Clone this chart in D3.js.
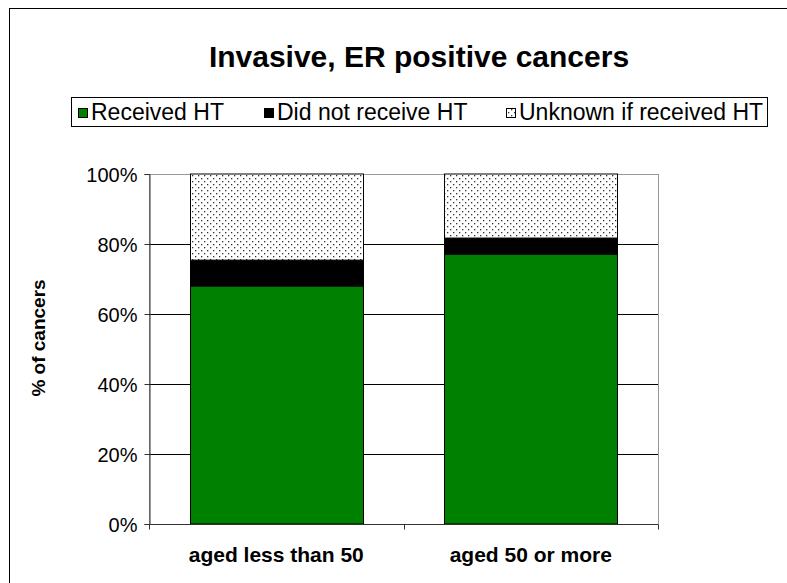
<!DOCTYPE html>
<html>
<head>
<meta charset="utf-8">
<script src="https://cdn.jsdelivr.net/npm/d3@7"></script>
<style>
  body { margin: 0; background: #fff; }
  svg { display: block; font-family: Arial, "Liberation Sans", sans-serif; }
</style>
</head>
<body>
<div id="chart"></div>
<script>
(function () {
    'use strict';

    var categories = ['aged less than 50', 'aged 50 or more'];
    var seriesNames = ['Received HT', 'Did not receive HT', 'Unknown if received HT'];
    var received = [68, 77.1];
    var notReceived = [7.4, 4.6];
    var unknown = [24.6, 18.3];
    var yTicks = [0, 20, 40, 60, 80, 100];

    var width = 787, height = 583;
    var margin = { left: 149, right: 129, top: 174, bottom: 59 };
    var innerW = width - margin.left - margin.right;
    var innerH = height - margin.top - margin.bottom;
    var font = 'Arial, "Liberation Sans", sans-serif';

    var svg = d3.select('#chart').append('svg')
        .attr('width', width)
        .attr('height', height);

    var defs = svg.append('defs');
    var pat = defs.append('pattern')
        .attr('id', 'dots')
        .attr('patternUnits', 'userSpaceOnUse')
        .attr('width', 6).attr('height', 6);
    pat.append('rect').attr('width', 6).attr('height', 6).attr('fill', '#fff');
    pat.append('rect').attr('x', 1).attr('y', 1).attr('width', 1.3).attr('height', 1.3).attr('fill', '#333');
    pat.append('rect').attr('x', 4).attr('y', 4).attr('width', 1.3).attr('height', 1.3).attr('fill', '#333');

    // outer chart frame (right/bottom run off the page)
    svg.append('rect')
        .attr('x', 9.5).attr('y', 8.5)
        .attr('width', 800).attr('height', 600)
        .attr('fill', 'none')
        .attr('stroke', '#000');

    svg.append('text')
        .attr('x', 419).attr('y', 67)
        .attr('text-anchor', 'middle')
        .style('font-size', '30px')
        .style('font-weight', 'bold')
        .text('Invasive, ER positive cancers');

    // legend
    var legend = svg.append('g');
    legend.append('rect')
        .attr('x', 71.5).attr('y', 97.5)
        .attr('width', 696).attr('height', 29)
        .attr('fill', '#fff')
        .attr('stroke', '#000');
    var legendX = [78, 264, 506];
    var legendFill = ['#008000', '#000', 'url(#dots)'];
    seriesNames.forEach(function (name, i) {
        legend.append('rect')
            .attr('x', legendX[i] + 0.5).attr('y', 108.5)
            .attr('width', 9).attr('height', 9)
            .attr('fill', legendFill[i])
            .attr('stroke', '#000');
        legend.append('text')
            .attr('x', legendX[i] + 13).attr('y', 120)
            .style('font-size', '23px')
            .text(name);
    });

    var g = svg.append('g')
        .attr('transform', 'translate(' + margin.left + ',' + margin.top + ')');

    var x = d3.scaleBand().domain(categories).range([0, innerW]).paddingInner(0.32).paddingOuter(0.16);
    var y = d3.scaleLinear().domain([0, 100]).range([innerH, 0]);

    // plot area border
    g.append('rect')
        .attr('x', 0.5).attr('y', 0.5)
        .attr('width', innerW).attr('height', innerH)
        .attr('fill', '#fff')
        .attr('stroke', '#999');

    // gridlines
    g.selectAll('.grid').data(yTicks.slice(1, -1)).enter().append('line')
        .attr('x1', 0).attr('x2', innerW)
        .attr('y1', function (d) { return Math.round(y(d)) + 0.5; })
        .attr('y2', function (d) { return Math.round(y(d)) + 0.5; })
        .attr('stroke', '#000');

    var stackData = categories.map(function (c, i) {
        return { cat: c, a: received[i], b: notReceived[i], c: unknown[i] };
    });
    var series = d3.stack().keys(['a', 'b', 'c'])(stackData);
    var fills = ['#008000', '#000', 'url(#dots)'];

    g.selectAll('.series').data(series).enter().append('g')
        .attr('fill', function (d, i) { return fills[i]; })
        .selectAll('rect').data(function (d) { return d; }).enter().append('rect')
        .attr('x', function (d) { return Math.round(x(d.data.cat)) + 0.5; })
        .attr('width', Math.round(x.bandwidth()))
        .attr('y', function (d) { return y(d[1]); })
        .attr('height', function (d) { return y(d[0]) - y(d[1]); })
        .attr('stroke', '#000');

    // y axis
    var yAxis = g.append('g')
        .attr('transform', 'translate(0.5,0)')
        .call(d3.axisLeft(y).tickValues(yTicks).tickSize(5).tickPadding(7)
            .tickFormat(function (d) { return d + '%'; }));
    yAxis.select('.domain').attr('stroke', '#333');
    yAxis.selectAll('.tick line').attr('stroke', '#333');
    yAxis.selectAll('text')
        .attr('fill', '#000')
        .attr('dy', '0.36em')
        .style('font-size', '20px')
        .style('font-family', font);

    // x axis
    var xAxis = g.append('g').attr('transform', 'translate(0,' + (innerH + 0.5) + ')');
    xAxis.append('line').attr('x1', 0).attr('x2', innerW).attr('stroke', '#333');
    xAxis.selectAll('.xt').data([0, innerW / 2, innerW]).enter().append('line')
        .attr('x1', function (d) { return Math.round(d) + 0.5; })
        .attr('x2', function (d) { return Math.round(d) + 0.5; })
        .attr('y1', 0).attr('y2', 5)
        .attr('stroke', '#333');
    xAxis.selectAll('.xl').data(categories).enter().append('text')
        .attr('x', function (d) { return x(d) + x.bandwidth() / 2; })
        .attr('y', 37)
        .attr('text-anchor', 'middle')
        .style('font-size', '21px')
        .style('font-weight', 'bold')
        .text(function (d) { return d; });

    svg.append('text')
        .attr('transform', 'translate(45,338) rotate(-90)')
        .attr('text-anchor', 'middle')
        .style('font-size', '19px')
        .style('font-weight', 'bold')
        .text('%  of cancers');
})();
</script>
</body>
</html>
